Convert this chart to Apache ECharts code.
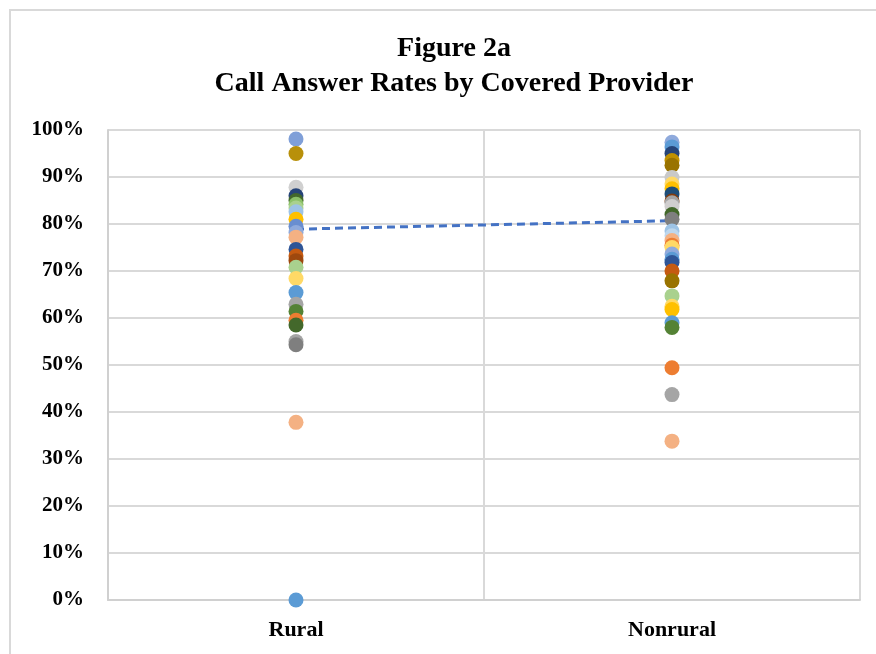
<!DOCTYPE html>
<html>
<head>
<meta charset="utf-8">
<script src="https://cdn.jsdelivr.net/npm/echarts@6/dist/echarts.min.js"></script>
<style>
  html, body { margin: 0; padding: 0; background: #fff; }
  #frame {
    position: absolute; left: 9px; top: 9px; width: 880px; height: 660px;
    border-left: 2px solid #d9d9d9; border-top: 2px solid #d9d9d9;
  }
  #chart { position: absolute; left: 0; top: 0; width: 876px; height: 654px; }
</style>
</head>
<body>
<div id="frame"></div>
<div id="chart"></div>
<script>
const categories = ["Rural", "Nonrural"];
const yTicks = [0, 0.1, 0.2, 0.3, 0.4, 0.5, 0.6, 0.7, 0.8, 0.9, 1.0];

// answer rate per covered provider (fraction)
const ruralRates = [
  0.981, 0.950, 0.878, 0.860, 0.850, 0.842, 0.834, 0.826, 0.810, 0.795,
  0.782, 0.772, 0.746, 0.732, 0.722, 0.708, 0.684, 0.654, 0.629, 0.614,
  0.595, 0.585, 0.550, 0.543, 0.378, 0.000
];
const ruralColors = [
  "#7f9fd8", "#b8900a", "#d0d0d0", "#264478", "#43682b", "#8cc168", "#a9d18e", "#9dc3e6", "#ffc000", "#698ed0",
  "#8faadc", "#f4b183", "#2f5597", "#c55a11", "#9e480e", "#a9d18e", "#ffd966", "#5b9bd5", "#a5a5a5", "#548235",
  "#ed7d31", "#43682b", "#a5a5a5", "#7f7f7f", "#f4b183", "#5b9bd5"
];

const nonruralRates = [
  0.974, 0.964, 0.950, 0.935, 0.925, 0.899, 0.885, 0.875, 0.864, 0.849,
  0.845, 0.837, 0.820, 0.810, 0.785, 0.775, 0.765, 0.755, 0.750, 0.736,
  0.725, 0.718, 0.700, 0.679, 0.647, 0.625, 0.618, 0.590, 0.580, 0.494,
  0.437, 0.338
];
const nonruralColors = [
  "#8faadc", "#5b9bd5", "#264478", "#bf9000", "#997300", "#c9c9c9", "#ffd966", "#ffc000", "#1f4e79", "#843c0c",
  "#a5a5a5", "#d0cece", "#43682b", "#7f7f7f", "#9dc3e6", "#bdd7ee", "#f4b183", "#ed7d31", "#ffd966", "#8faadc",
  "#5b9bd5", "#2f5597", "#c55a11", "#997300", "#a9d18e", "#ffd966", "#ffc000", "#5b9bd5", "#548235", "#ed7d31",
  "#a5a5a5", "#f4b183"
];

// average answer rate line
const averageRates = [0.789, 0.807];

function pointsFor(cat, rates, colors) {
  return rates.map((v, i) => ({
    value: [cat, v],
    itemStyle: { color: colors[i], opacity: 1 },
  }));
}

const chartDom = document.getElementById("chart");
const myChart = echarts.init(chartDom, null, { renderer: "canvas" });

const serif = "'Liberation Serif', 'Times New Roman', serif";

const option = {
  animation: false,
  title: {
    text: "Figure 2a\nCall Answer Rates by Covered Provider",
    left: 449,
    textAlign: "center",
    top: 26,
    textStyle: {
      fontFamily: serif,
      fontWeight: "bold",
      fontSize: 28,
      lineHeight: 35,
      color: "#000",
    },
  },
  grid: { left: 108, right: 16, top: 130, bottom: 54 },
  xAxis: {
    type: "category",
    data: categories,
    boundaryGap: true,
    axisLine: { show: true, lineStyle: { color: "#d0d0d0", width: 2 } },
    axisTick: { show: false },
    splitLine: { show: true, interval: 0, lineStyle: { color: "#d9d9d9", width: 2 } },
    axisLabel: {
      margin: 19,
      fontFamily: serif,
      fontWeight: "bold",
      fontSize: 22,
      color: "#000",
    },
  },
  yAxis: {
    type: "value",
    min: yTicks[0],
    max: yTicks[yTicks.length - 1],
    interval: 0.1,
    axisLine: { show: true, lineStyle: { color: "#d0d0d0", width: 2 } },
    axisTick: { show: false },
    splitLine: { show: true, lineStyle: { color: "#d9d9d9", width: 2 } },
    axisLabel: {
      margin: 24,
      fontFamily: serif,
      fontWeight: "bold",
      fontSize: 21,
      color: "#000",
      formatter: (v) => Math.round(v * 100) + "%",
    },
  },
  series: [
    {
      type: "line",
      data: averageRates,
      symbol: "none",
      z: 1,
      lineStyle: { color: "#4472c4", width: 3, type: [8, 5] },
    },
    {
      type: "scatter",
      symbolSize: 15,
      z: 2,
      data: pointsFor(categories[0], ruralRates, ruralColors),
    },
    {
      type: "scatter",
      symbolSize: 15,
      z: 2,
      data: pointsFor(categories[1], nonruralRates, nonruralColors),
    },
  ],
};

myChart.setOption(option);
</script>
</body>
</html>
